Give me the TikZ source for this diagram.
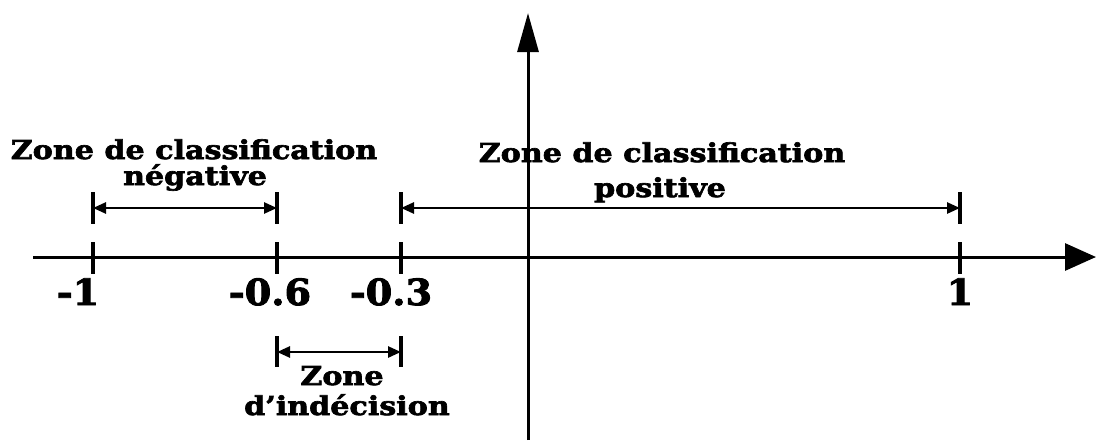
\documentclass[tikz,border=0pt]{standalone}
\usepackage{fontspec}
\setmainfont{DejaVu Serif}
\newfontfamily\heavy{DejaVu Serif}[FakeStretch=1.16, BoldFeatures={FakeBold=2.5}]
\newfontfamily\heavynum{DejaVu Serif}[FakeStretch=1.06, BoldFeatures={FakeBold=2.5}]
\usetikzlibrary{arrows.meta}
\tikzset{
  axis/.style={line width=3pt},
  tickmark/.style={line width=3.4pt},
  dimline/.style={line width=2.6pt,{Triangle[length=13pt,width=11pt]}-{Triangle[length=13pt,width=11pt]}},
  lab/.style={font=\heavy\bfseries\fontsize{26}{30}\selectfont, inner sep=0pt, anchor=base},
  num/.style={font=\heavynum\bfseries\fontsize{36}{40}\selectfont, inner sep=0pt, anchor=base},
}
\begin{document}
\begin{tikzpicture}[x=1pt,y=-1pt]
\useasboundingbox (0,0) rectangle (1096,440);
% axes
\coordinate (xs) at (33,257);
\coordinate (xe) at (1096,257);
\coordinate (ys) at (528,440);
\coordinate (ye) at (528,13);
\draw[axis,-{Triangle[length=31pt,width=27pt]}] (xs) -- (xe);
\draw[axis,-{Triangle[length=39pt,width=21pt]}] (ys) -- (ye);
% ticks on axis
\foreach \n/\x in {m1/93, m6/277, m3/401, p1/960}{
  \coordinate (t\n a) at (\x,242);
  \coordinate (t\n b) at (\x,274);
  \draw[tickmark] (t\n a) -- (t\n b);
}
% upper dimension ticks
\foreach \n/\x in {m1/93, m6/277, m3/401, p1/960}{
  \coordinate (u\n a) at (\x,192);
  \coordinate (u\n b) at (\x,224);
  \coordinate (u\n) at (\x,208);
  \draw[tickmark] (u\n a) -- (u\n b);
}
\draw[dimline] (um1) -- (um6);
\draw[dimline] (um3) -- (up1);
% lower dimension
\foreach \n/\x in {m6/277, m3/401}{
  \coordinate (l\n a) at (\x,336);
  \coordinate (l\n b) at (\x,367);
  \coordinate (l\n) at (\x,352);
  \draw[tickmark] (l\n a) -- (l\n b);
}
\draw[dimline] (lm6) -- (lm3);
% numbers
\node[num] (n1) at (78,305) {-1};
\node[num] (n2) at (270,305) {-0.6};
\node[num] (n3) at (391,305) {-0.3};
\node[num] (n4) at (960,305) {1};
% labels
\node[lab] (la) at (194,159) {Zone de classification};
\node[lab] (lb) at (195,185) {négative};
\node[lab] (ra) at (662,162) {Zone de classification};
\node[lab] (rb) at (660,197) {positive};
\node[lab] (ba) at (342,385) {Zone};
\node[lab] (bb) at (347,415) {d’indécision};
\end{tikzpicture}
\end{document}
